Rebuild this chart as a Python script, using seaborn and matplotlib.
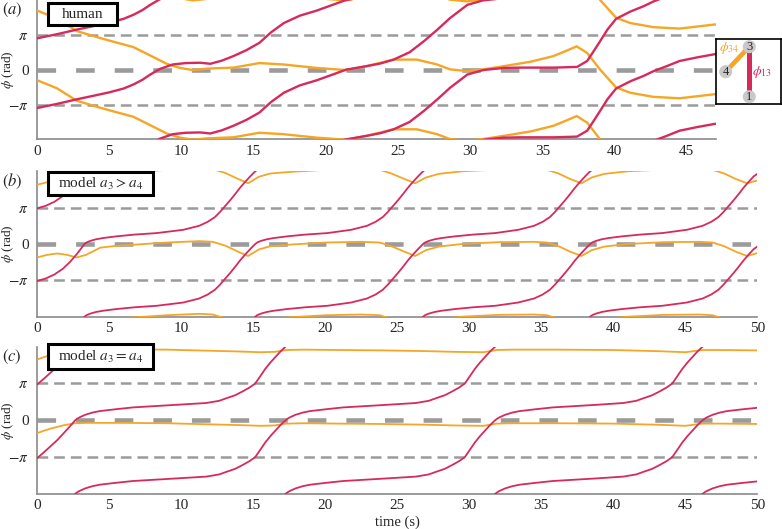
import numpy as np
import matplotlib
matplotlib.use("Agg")
import matplotlib.pyplot as plt
import seaborn as sns
from matplotlib.patches import Rectangle, Circle

# unwrapped phases in units of pi
human_t13 = [0, 1.4, 2.75, 4.0, 5.0, 6.0, 6.7, 7.3, 7.8, 8.5, 9.4, 10.3, 11.3, 12.0, 12.8, 13.6,
             14.5, 15.4, 16.2, 17.1, 18.2, 19.4, 20.4, 21.4, 22.8, 23.8, 24.7, 25.8, 26.8, 27.7,
             28.6, 29.8, 30.9, 32.3, 33.4, 35.8, 37.4, 38.1, 38.5, 39.0, 39.5, 40.1, 41.1, 42.0,
             42.7, 43.6, 44.5, 45.8, 47.0]
human_phi13 = [-1.10, -0.98, -0.85, -0.74, -0.65, -0.54, -0.42, -0.29, -0.15, 0.02, 0.15, 0.19,
               0.20, 0.17, 0.26, 0.39, 0.56, 0.77, 1.07, 1.34, 1.55, 1.70, 1.85, 2.0, 2.10, 2.18,
               2.29, 2.50, 2.82, 3.14, 3.48, 3.86, 3.99, 4.05, 4.06, 4.06, 4.08, 4.25, 4.50, 4.82,
               5.15, 5.46, 5.67, 5.82, 5.96, 6.10, 6.25, 6.36, 6.45]
human_t34 = [0, 1.37, 2.75, 4.36, 5.5, 6.67, 7.83, 8.98, 9.9, 10.8, 11.75, 13.6, 15.4, 17.06,
             19.37, 21.4, 22.8, 24.7, 26.3, 27.7, 28.6, 29.76, 30.9, 32.3, 34.2, 35.76, 36.7,
             37.37, 38.1, 39.0, 40.1, 41.07, 42.7, 44.5, 47.0]
human_phi34 = [1.70, 1.47, 1.11, 0.91, 0.78, 0.65, 0.41, 0.17, 0.05, -0.01, 0.03, 0.06, 0.19, 0.15,
               0.05, -0.01, 0.10, 0.29, 0.29, 0.15, 0.01, -0.04, 0.01, 0.10, 0.23, 0.39, 0.55,
               0.67, 0.48, 0.0, -0.51, -0.66, -0.78, -0.82, -0.70]

unequal_t13 = [0, 0.6, 1.2, 1.8, 2.3, 2.8,
               3.3, 3.45, 3.7, 4.1, 4.6, 5.5, 6.8, 8.3, 10.15, 11.25, 11.85, 12.35, 12.7, 13.05,
               13.4, 13.75, 14.1, 14.45, 14.8, 15.15,
               15.3, 15.55, 15.95, 16.45, 17.35, 18.65, 20.15, 21.8, 22.9, 23.5, 24.0, 24.35, 24.7,
               25.05, 25.4, 25.75, 26.1, 26.45, 26.8,
               26.95, 27.2, 27.6, 28.1, 29.0, 30.3, 31.8, 33.4, 34.5, 35.1, 35.6, 35.95, 36.3,
               36.65, 37.0, 37.35, 37.7, 38.05, 38.4,
               38.55, 38.8, 39.2, 39.7, 40.6, 41.9, 43.4, 45.1, 46.2, 46.8, 47.3, 47.65, 48.0,
               48.35, 48.7, 49.05, 49.4, 49.75, 50.0]
unequal_phi13 = [-1.02, -0.95, -0.84, -0.68, -0.49, -0.26,
                 0.0, 0.045, 0.085, 0.13, 0.165, 0.21, 0.26, 0.30, 0.39, 0.50, 0.61, 0.74, 0.88,
                 1.04, 1.2, 1.37, 1.55, 1.71, 1.86, 2.0,
                 2.045, 2.085, 2.13, 2.165, 2.21, 2.26, 2.30, 2.39, 2.50, 2.61, 2.74, 2.88, 3.04,
                 3.2, 3.37, 3.55, 3.71, 3.86, 4.0,
                 4.045, 4.085, 4.13, 4.165, 4.21, 4.26, 4.30, 4.39, 4.50, 4.61, 4.74, 4.88, 5.04,
                 5.2, 5.37, 5.55, 5.71, 5.86, 6.0,
                 6.045, 6.085, 6.13, 6.165, 6.21, 6.26, 6.30, 6.39, 6.50, 6.61, 6.74, 6.88, 7.04,
                 7.2, 7.37, 7.55, 7.71, 7.86, 7.93]
unequal_t34 = [0, 0.7, 1.4, 2.1, 2.75, 3.4, 4.4, 5.5, 6.7, 9.0, 11.3, 12.2, 13.1, 13.9, 14.65,
               15.4, 16.2, 17.8, 20.0, 22.5, 23.8, 24.6, 25.5, 26.25, 27.0, 27.9, 29.5, 32.0, 34.5,
               35.4, 36.2, 37.0, 37.8, 38.5, 39.4, 41.0, 43.5, 46.0, 46.9, 47.7, 48.5, 49.3, 50.0]
unequal_phi34 = [-0.37, -0.30, -0.26, -0.30, -0.37, -0.30, -0.10, -0.05, -0.02, 0.04, 0.08, 0.06,
                 -0.05, -0.20, -0.33, -0.15, -0.06, -0.01, 0.04, 0.06, 0.04, -0.06, -0.21, -0.33,
                 -0.17, -0.07, 0.0, 0.05, 0.06, 0.04, -0.06, -0.21, -0.33, -0.17, -0.07, 0.0,
                 0.05, 0.06, 0.04, -0.06, -0.21, -0.33, -0.25]

equal_t13 = [0, 0.45, 0.9, 1.4, 1.83, 2.25,
             2.65, 2.8, 2.95, 3.35, 3.85, 4.35, 5.45, 6.65, 9.65, 11.75, 12.65, 13.15, 13.75,
             14.25, 14.75, 15.15, 15.5, 15.85, 16.2, 16.55, 16.9, 17.25,
             17.4, 17.55, 17.95, 18.45, 18.95, 20.05, 21.25, 24.25, 26.3, 27.2, 27.7, 28.3, 28.8,
             29.3, 29.7, 30.05, 30.4, 30.75, 31.1, 31.45, 31.8,
             31.95, 32.1, 32.5, 33.0, 33.5, 34.6, 35.8, 38.8, 40.7, 41.6, 42.1, 42.7, 43.2, 43.7,
             44.1, 44.45, 44.8, 45.15, 45.5, 45.85, 46.2,
             46.35, 46.5, 46.9, 47.4, 47.9, 49.0, 50.0]
equal_phi13 = [-1.03, -0.88, -0.72, -0.54, -0.36, -0.18,
               0.0, 0.045, 0.08, 0.15, 0.21, 0.25, 0.30, 0.35, 0.42, 0.47, 0.53, 0.60, 0.68, 0.78,
               0.89, 1.0, 1.2, 1.40, 1.57, 1.72, 1.87, 2.0,
               2.045, 2.08, 2.15, 2.21, 2.25, 2.30, 2.35, 2.42, 2.47, 2.53, 2.60, 2.68, 2.78,
               2.89, 3.0, 3.2, 3.40, 3.57, 3.72, 3.87, 4.0,
               4.045, 4.08, 4.15, 4.21, 4.25, 4.30, 4.35, 4.42, 4.47, 4.53, 4.60, 4.68, 4.78,
               4.89, 5.0, 5.2, 5.40, 5.57, 5.72, 5.87, 6.0,
               6.045, 6.08, 6.15, 6.21, 6.25, 6.30, 6.34]
equal_t34 = [0, 0.5, 1.0, 1.8, 2.6, 3.5, 6.0, 9.0, 12.0, 14.0, 15.5, 16.5, 17.3, 18.5, 21.0, 24.0,
             27.0, 29.0, 31.0, 31.9, 33.0, 36.0, 40.0, 43.0, 45.0, 46.2, 47.5, 50.0]
equal_phi34 = [-0.35, -0.28, -0.22, -0.14, -0.08, -0.07, -0.07, -0.08, -0.11, -0.13, -0.15, -0.14,
               -0.09, -0.08, -0.09, -0.10, -0.12, -0.14, -0.15, -0.09, -0.08, -0.08, -0.09, -0.12,
               -0.15, -0.09, -0.09, -0.10]

panel_titles = ['human', r'model $a_3 > a_4$', r'model $a_3 = a_4$']
x_ends = [47, 50, 50]

RED = '#d62a5c'
ORANGE = '#f5a626'
GRAY = '#9b9b9b'
SPINE = '#8a8a8a'
PI = np.pi
W, H = 782, 529

sns.set_style('white')
plt.rcParams['font.family'] = ['Liberation Serif', 'DejaVu Serif']
plt.rcParams['mathtext.fontset'] = 'stix'
plt.rcParams['lines.scale_dashes'] = False

fig = plt.figure(figsize=(W / 100, H / 100), dpi=100)


def px_axes(left, top, right, bottom):
    return fig.add_axes([left / W, 1 - bottom / H, (right - left) / W, (bottom - top) / H])


def wrapped(ax, t, phi, color, lw):
    # draw the phase and its 2*pi copies, the axis limits cut them to [-2pi, 2pi]
    t = np.asarray(t, float)
    phi = np.asarray(phi, float)
    for k in range(-4, 2):
        y = (phi + 2 * k) * PI
        if y.max() < -2 * PI or y.min() > 2 * PI:
            continue
        sns.lineplot(x=t, y=y, ax=ax, color=color, lw=lw, estimator=None, sort=False, zorder=3)


def label_box(x0, y0, x1, y1, text):
    fig.add_artist(Rectangle((x0 / W, 1 - y1 / H), (x1 - x0) / W, (y1 - y0) / H,
                             transform=fig.transFigure, facecolor='white', edgecolor='black',
                             lw=2.2, zorder=10))
    fig.text((x0 + x1) / 2 / W, 1 - (y0 + y1) / 2 / H, text, ha='center', va='center',
             fontsize=11, zorder=11)


boxes = [(37, 0, 715.7, 139.4), (37, 171.3, 757.3, 316.7), (37, 346.7, 757.3, 493.9)]
label_boxes = [(48, 3, 117, 25), (48, 172, 153, 195), (48, 344, 153, 369)]
series = [(human_t13, human_phi13, human_t34, human_phi34, 1.7),
          (unequal_t13, unequal_phi13, unequal_t34, unequal_phi34, 1.3),
          (equal_t13, equal_phi13, equal_t34, equal_phi34, 1.3)]

for i in range(3):
    ax = px_axes(*boxes[i])
    t13, p13, t34, p34, lw = series[i]
    ax.axhline(PI, color=GRAY, lw=1.8, dashes=(7.7, 4.3), dash_capstyle='butt', zorder=1)
    ax.axhline(-PI, color=GRAY, lw=1.8, dashes=(7.7, 4.3), dash_capstyle='butt', zorder=1)
    ax.axhline(0, color=GRAY, lw=3.3, dashes=(13.4, 14.4), dash_capstyle='butt', zorder=1)
    wrapped(ax, t34, p34, ORANGE, lw)
    wrapped(ax, t13, p13, RED, lw)
    ax.set_xlim(0, x_ends[i])
    ax.set_ylim(-2 * PI, 2 * PI)
    ax.set_xticks(range(0, x_ends[i] + 1, 5))
    ax.set_yticks([-PI, 0, PI])
    ax.set_yticklabels([r'$-\pi$', '0', r'$\pi$'])
    sns.despine(ax=ax)
    for side in ['left', 'bottom']:
        ax.spines[side].set_color(SPINE)
        ax.spines[side].set_linewidth(1.2)
    ax.tick_params(axis='x', direction='in', length=4, width=1.2, color=SPINE, labelsize=11, pad=4)
    ax.tick_params(axis='y', length=0, labelsize=11, pad=6)
    ax.set_ylabel(r'$\phi$ (rad)', fontsize=9.5)
    width_px = boxes[i][2] - boxes[i][0]
    ax.yaxis.set_label_coords((16 - 37) / width_px, 0.5)
    if i == 2:
        ax.set_xlabel('time (s)', fontsize=10.5, labelpad=2)
    fig.text(2 / W, 1 - (boxes[i][1] + 10) / H, r'$(%s)$' % 'abc'[i], ha='left', va='center',
             fontsize=12)
    label_box(*label_boxes[i], panel_titles[i])

# small schematic of the three markers in panel (a)
ins = px_axes(716, 39, 781, 104)
ins.set_xlim(716, 781)
ins.set_ylim(104, 39)
ins.set_xticks([])
ins.set_yticks([])
for s in ins.spines.values():
    s.set_visible(True)
    s.set_color('black')
    s.set_linewidth(1.2)
nodes = {'3': (749.3, 46.7), '4': (725.7, 71.7), '1': (749.3, 96.7)}
ins.plot([nodes['4'][0], nodes['3'][0]], [nodes['4'][1], nodes['3'][1]], color=ORANGE, lw=3.4,
         solid_capstyle='butt')
ins.plot([nodes['3'][0], nodes['1'][0]], [nodes['3'][1], nodes['1'][1]], color=RED, lw=3.6,
         solid_capstyle='butt')
for name, (cx, cy) in nodes.items():
    ins.add_patch(Circle((cx, cy), 6.5, facecolor='#c9c9c9', edgecolor='none', zorder=4))
    ins.text(cx, cy, name, ha='center', va='center', fontsize=9, zorder=5)
ins.text(729, 48, r'$\phi_{34}$', color=ORANGE, ha='center', va='center', fontsize=10)
ins.text(762, 72, r'$\phi_{13}$', color=RED, ha='center', va='center', fontsize=10)

fig.savefig('out.png', dpi=100)
